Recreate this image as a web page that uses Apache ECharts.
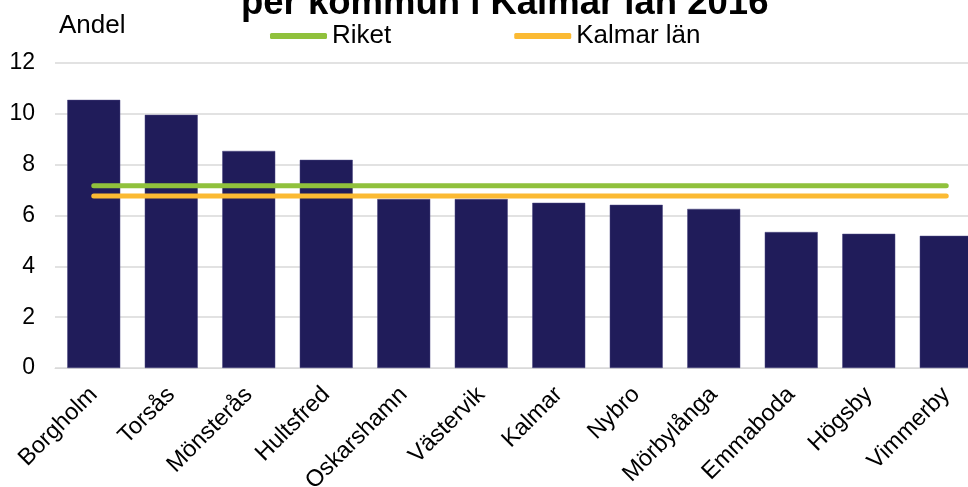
<!DOCTYPE html>
<html lang="sv">
<head>
  <meta charset="UTF-8">
  <title>Andel per kommun i Kalmar län 2016</title>
  <style>
    html, body { margin: 0; padding: 0; background: #fff; }
  </style>
</head>
<body>
<div id="main" style="width: 968px;height: 487px"></div>
<script type="text/javascript" src="https://cdn.jsdelivr.net/npm/echarts@6/dist/echarts.min.js"></script>
<script>
// kommuner, sorterade efter andel
var kommuner = ['Borgholm', 'Torsås', 'Mönsterås', 'Hultsfred', 'Oskarshamn', 'Västervik',
  'Kalmar', 'Nybro', 'Mörbylånga', 'Emmaboda', 'Högsby', 'Vimmerby'];
var andel = [10.55, 9.96, 8.54, 8.19, 6.65, 6.65, 6.5, 6.42, 6.26, 5.35, 5.28, 5.2];
var riket = [7.17, 7.17, 7.17, 7.17, 7.17, 7.17, 7.17, 7.17, 7.17, 7.17, 7.17, 7.17];
var kalmarLan = [6.77, 6.77, 6.77, 6.77, 6.77, 6.77, 6.77, 6.77, 6.77, 6.77, 6.77, 6.77];
var yTicks = [0, 2, 4, 6, 8, 10, 12];

var font = 'Liberation Sans, Arial, sans-serif';

var option = {
  animation: false,
  textStyle: { fontFamily: font },
  title: {
    text: 'per kommun i Kalmar län 2016',
    left: 241,
    top: -15,
    padding: 0,
    textStyle: { fontSize: 36.5, fontWeight: 'bold', color: '#000', fontFamily: font }
  },
  legend: {
    top: 23,
    left: 270,
    padding: 0,
    itemGap: 123,
    itemWidth: 57,
    itemHeight: 6,
    textStyle: { fontSize: 26, color: '#000', fontFamily: font },
    data: [
      { name: 'Riket', icon: 'roundRect' },
      { name: 'Kalmar län', icon: 'roundRect' }
    ]
  },
  grid: {
    left: 55,
    top: 63,
    right: -17,
    height: 305,
    outerBoundsMode: 'none',
    containLabel: false
  },
  xAxis: {
    type: 'category',
    data: kommuner,
    axisTick: { show: false },
    axisLine: { lineStyle: { color: '#d9d9d9', width: 1 } },
    axisLabel: {
      rotate: 45,
      interval: 0,
      fontSize: 23.5,
      color: '#000',
      fontFamily: font,
      margin: 23
    }
  },
  yAxis: {
    type: 'value',
    min: yTicks[0],
    max: yTicks[yTicks.length - 1],
    interval: 2,
    name: 'Andel',
    nameLocation: 'end',
    nameGap: 24,
    nameTextStyle: { fontSize: 26, color: '#000', fontFamily: font, align: 'left', padding: [0, 0, 0, 4] },
    axisLine: { show: false },
    axisTick: { show: false },
    axisLabel: { fontSize: 23, color: '#000', fontFamily: font, margin: 20 },
    splitLine: { lineStyle: { color: '#d9d9d9', width: 1.5 } }
  },
  series: [
    {
      name: 'Andel',
      type: 'bar',
      data: andel,
      barWidth: 53,
      itemStyle: { color: '#201c5a', borderColor: '#4a4780', borderWidth: 0.5 },
      z: 2
    },
    {
      name: 'Riket',
      type: 'line',
      data: riket,
      symbol: 'none',
      lineStyle: { color: '#90c13c', width: 5, cap: 'round' },
      itemStyle: { color: '#90c13c' },
      z: 3
    },
    {
      name: 'Kalmar län',
      type: 'line',
      data: kalmarLan,
      symbol: 'none',
      lineStyle: { color: '#fbba33', width: 5, cap: 'round' },
      itemStyle: { color: '#fbba33' },
      z: 3
    }
  ]
};

var myChart = echarts.init(document.getElementById('main'));
myChart.setOption(option);
</script>
</body>
</html>
